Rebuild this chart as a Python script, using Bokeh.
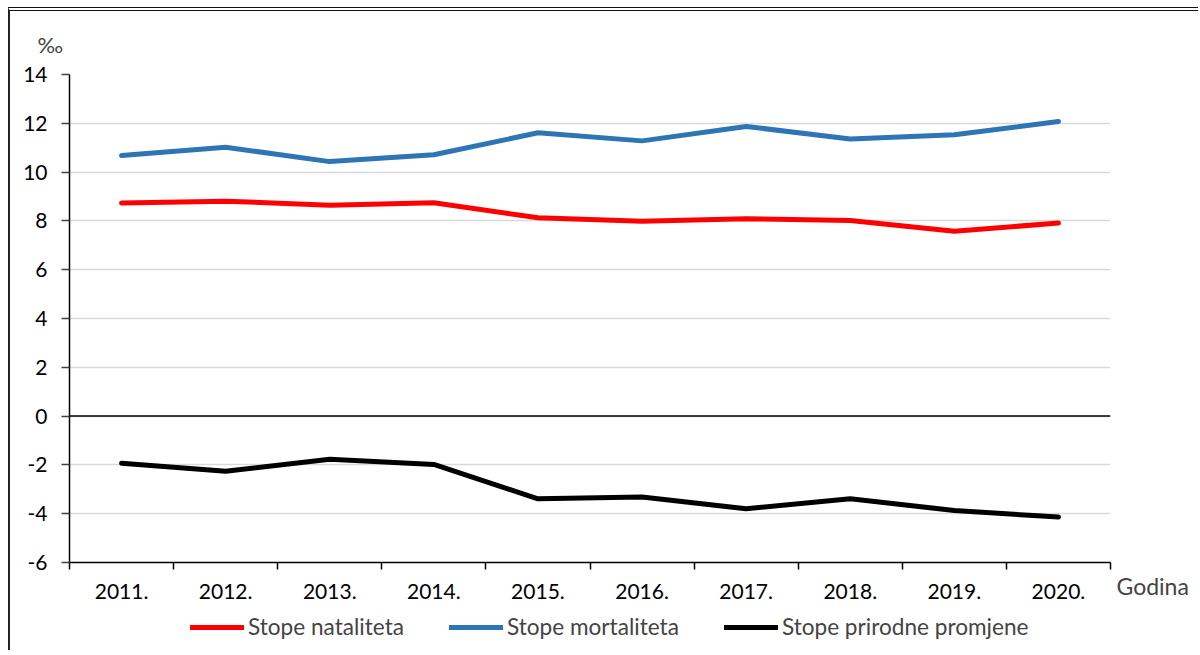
from bokeh.plotting import figure
from bokeh.models import (Range1d, FixedTicker, Legend, LegendItem, Span, Title, Label)
from bokeh.layouts import column, row
from bokeh.embed import file_html
from bokeh.resources import INLINE

years = ["2011.", "2012.", "2013.", "2014.", "2015.", "2016.", "2017.", "2018.", "2019.", "2020."]
natalitet = [8.73, 8.81, 8.64, 8.74, 8.13, 7.99, 8.09, 8.02, 7.58, 7.91]
mortalitet = [10.68, 11.02, 10.43, 10.71, 11.61, 11.28, 11.87, 11.36, 11.53, 12.07]
prirodna = [-1.93, -2.26, -1.77, -1.98, -3.39, -3.32, -3.80, -3.39, -3.87, -4.14]
series_names = ["Stope nataliteta", "Stope mortaliteta", "Stope prirodne promjene"]
y_ticks = [-6, -4, -2, 0, 2, 4, 6, 8, 10, 12, 14]
y_unit = "‰"
x_title = "Godina"
colors = ["#ff0000", "#2e75b6", "#000000"]

FONT = "Lato"
xs = list(range(1, len(years) + 1))
series = [natalitet, mortalitet, prirodna]

MAIN_W, MAIN_H = 1102, 599
p = figure(width=MAIN_W, height=MAIN_H, output_backend="svg", toolbar_location=None,
           x_range=Range1d(0.5, len(years) + 0.5), y_range=Range1d(-6, 14),
           min_border_left=59, min_border_right=2, min_border_top=63, min_border_bottom=48)
p.outline_line_color = None
p.background_fill_color = "white"
p.border_fill_color = "white"

# x axis: labels at category centres, ticks at category boundaries
p.xaxis.ticker = FixedTicker(ticks=xs, minor_ticks=[x - 0.5 for x in xs] + [xs[-1] + 0.5])
p.xaxis.major_label_overrides = {x: y for x, y in zip(xs, years)}
p.xaxis.major_tick_out = 0
p.xaxis.major_tick_in = 0
p.xaxis.minor_tick_out = 7
p.xaxis.minor_tick_in = 0
p.xaxis.minor_tick_line_color = "black"
p.xaxis.minor_tick_line_width = 1.5
p.xaxis.axis_line_color = "black"
p.xaxis.axis_line_width = 1.5
p.xaxis.major_label_standoff = 14

p.yaxis.ticker = FixedTicker(ticks=y_ticks)
p.yaxis.major_label_overrides = {t: str(t) for t in y_ticks}
p.yaxis.major_tick_out = 8
p.yaxis.major_tick_in = 0
p.yaxis.minor_tick_out = 0
p.yaxis.minor_tick_in = 0
p.yaxis.major_tick_line_color = "#404040"
p.yaxis.major_tick_line_width = 1.5
p.yaxis.axis_line_color = "black"
p.yaxis.axis_line_width = 1.5
p.yaxis.major_label_standoff = 14

for ax in (p.xaxis, p.yaxis):
    ax.major_label_text_font = FONT
    ax.major_label_text_font_size = "21px"
    ax.major_label_text_color = "black"

p.xgrid.grid_line_color = None
p.ygrid.ticker = FixedTicker(ticks=y_ticks)
p.ygrid.grid_line_color = "#d9d9d9"
p.ygrid.grid_line_width = 1.5

p.add_layout(Span(location=0, dimension="width", line_color="black", line_width=1.5))

for vals, c in zip(series, colors):
    p.line(xs, vals, line_color=c, line_width=5, line_cap="round", line_join="round")

# unit label above the y axis
p.add_layout(Title(text=y_unit, align="left", offset=-32, text_font=FONT, text_font_size="22px",
                   text_font_style="normal", standoff=34), "above")

# narrow panel to the right holding the x-axis title
RW = 86
pr = figure(width=RW, height=MAIN_H, output_backend="svg", toolbar_location=None,
            x_range=Range1d(0, RW), y_range=Range1d(0, MAIN_H),
            min_border=0, x_axis_type=None, y_axis_type=None)
if "frame_align" in pr.properties():
    pr.frame_align = False
pr.outline_line_color = None
pr.grid.visible = False
pr.add_layout(Label(x=4, y=MAIN_H - 574, text=x_title, text_font=FONT, text_font_size="23px",
                    text_baseline="middle", text_align="left"))

# legend strip below (legend glyphs taken from lines kept outside the visible range)
LW, LH = MAIN_W + RW, 40
pl = figure(width=LW, height=LH, output_backend="svg", toolbar_location=None,
            x_range=Range1d(-100, -99), y_range=Range1d(-100, -99),
            min_border=0, x_axis_type=None, y_axis_type=None)
if "frame_align" in pl.properties():
    pl.frame_align = False
pl.outline_line_color = None
pl.grid.visible = False
proxies = [pl.line(xs, vals, line_color=c, line_width=5, line_cap="round")
           for vals, c in zip(series, colors)]
legend = Legend(items=[LegendItem(label=n, renderers=[r]) for n, r in zip(series_names, proxies)],
                orientation="horizontal", location=(180, 10),
                padding=0, margin=0, border_line_alpha=0, background_fill_alpha=0,
                label_text_font=FONT, label_text_font_size="22.6px",
                glyph_width=54, glyph_height=20, label_standoff=4, spacing=45)
pl.add_layout(legend)

layout = column(row(p, pr, spacing=0), pl, spacing=0)
layout.styles = {"margin-left": "8px", "margin-top": "7px",
                 "border-left": "2px solid #222", "border-top": "4px double #111"}

html = file_html(layout, INLINE)
open("out.html", "w").write(html)
